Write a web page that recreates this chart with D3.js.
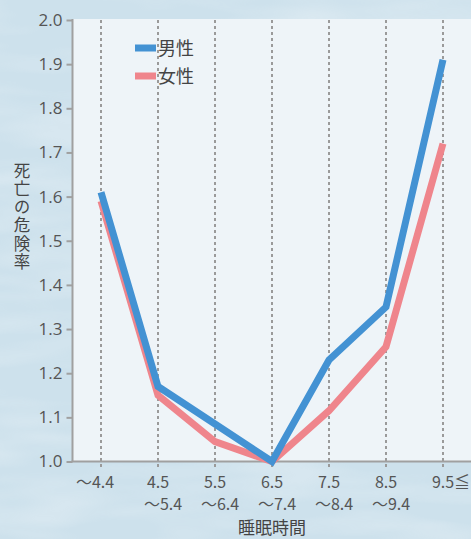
<!DOCTYPE html>
<html>
<head>
<meta charset="utf-8">
<script src="https://cdn.jsdelivr.net/npm/d3@7"></script>
<style>
  html, body { margin: 0; padding: 0; background: #d2e4ee; }
  svg { display: block; }
  text { font-family: "Noto Sans CJK JP", "Noto Sans", sans-serif; }
</style>
</head>
<body>
<svg id="chart" width="471" height="539"></svg>
<script>
// Sleep duration categories (hours)
const categories = ["~4.4", "4.5~5.4", "5.5~6.4", "6.5~7.4", "7.5~8.4", "8.5~9.4", "9.5≦"];
const tickLines = [["〜4.4"], ["4.5", "〜5.4"], ["5.5", "〜6.4"], ["6.5", "〜7.4"], ["7.5", "〜8.4"], ["8.5", "〜9.4"], ["9.5≦"]];
// Relative mortality risk
const male   = [1.61, 1.17, 1.085, 1.0, 1.23, 1.35, 1.91];
const female = [1.59, 1.15, 1.045, 1.0, 1.115, 1.26, 1.72];
const yTicks = [1.0, 1.1, 1.2, 1.3, 1.4, 1.5, 1.6, 1.7, 1.8, 1.9, 2.0];
const seriesNames = ["男性", "女性"];
const seriesColors = ["#4392d3", "#ef858c"];

const svg = d3.select("#chart");
const W = 471, H = 539;
const plotL = 72.5, plotR = 471.5, plotT = 20, plotB = 461.5;

// Textured background
const defs = svg.append("defs");
const f = defs.append("filter").attr("id", "paper").attr("x", 0).attr("y", 0).attr("width", "100%").attr("height", "100%");
f.append("feTurbulence").attr("type", "fractalNoise").attr("baseFrequency", "0.006 0.03").attr("numOctaves", 3).attr("seed", 4).attr("result", "n");
f.append("feColorMatrix").attr("in", "n").attr("type", "matrix")
  .attr("values", "0 0 0 0 1  0 0 0 0 1  0 0 0 0 1  0 0 0 1.1 -0.45");
svg.append("rect").attr("width", W).attr("height", H).attr("fill", "#cde1ec");
svg.append("rect").attr("width", W).attr("height", H).attr("filter", "url(#paper)").attr("opacity", 0.55);

const x = d3.scalePoint().domain(categories).range([plotL, plotR]).padding(0.5);
const y = d3.scaleLinear().domain([1.0, 2.0]).range([plotB, plotT]);

// Plot area
svg.append("rect").attr("x", plotL).attr("y", plotT - 1).attr("width", plotR - plotL).attr("height", plotB - plotT + 1)
  .attr("fill", "#eef4f8");

// Vertical dotted gridlines
svg.append("g").selectAll("line").data(categories).join("line")
  .attr("x1", d => x(d)).attr("x2", d => x(d))
  .attr("y1", plotT).attr("y2", plotB + 8)
  .attr("stroke", "#9a9a9a").attr("stroke-width", 2).attr("stroke-dasharray", "3,3");

// Y axis
const yAxis = svg.append("g").attr("transform", `translate(${plotL},0)`)
  .call(d3.axisLeft(y).tickValues(yTicks).tickFormat(d3.format(".1f")).tickSize(6).tickPadding(4));
yAxis.select(".domain").attr("stroke", "#a0a0a0").attr("stroke-width", 2).attr("d", `M0,${plotT - 1}V${plotB}`);
yAxis.selectAll(".tick line").attr("stroke", "#a0a0a0").attr("stroke-width", 2);
yAxis.selectAll(".tick text").attr("fill", "#555").attr("font-size", 17)
  .style("font-family", "'Open Sans', 'Noto Sans', sans-serif");

// Bottom axis line
svg.append("line").attr("x1", plotL - 1).attr("x2", plotR).attr("y1", plotB).attr("y2", plotB)
  .attr("stroke", "#a0a0a0").attr("stroke-width", 2);

// X tick labels: first line (start of range) and second line (end of range)
const xg = svg.append("g")
  .attr("fill", "#555").attr("font-size", 16).attr("text-anchor", "middle")
  .style("font-family", "'Liberation Sans', 'Open Sans', sans-serif");
categories.forEach((c, i) => {
  const parts = tickLines[i];
  parts.forEach((s, j) => {
    let shift = 0;
    if (parts.length === 1) shift = s.startsWith("〜") ? -6 : 8;
    else if (j === 1) shift = 5;
    xg.append("text").attr("x", x(c) + shift).attr("y", 487.5 + j * 22).text(s);
  });
});

// Lines
const line = d3.line().x((d, i) => x(categories[i])).y(d => y(d));
[female, male].forEach((vals, k) => {
  svg.append("path").datum(vals).attr("d", line)
    .attr("fill", "none").attr("stroke", seriesColors[1 - k]).attr("stroke-width", 7)
    .attr("stroke-linejoin", "miter");
});

// Legend
const lg = svg.append("g").selectAll("g").data(seriesNames).join("g")
  .attr("transform", (d, i) => `translate(135,${48 + i * 28})`);
lg.append("rect").attr("x", 0).attr("y", -3.5).attr("width", 21).attr("height", 7)
  .attr("fill", (d, i) => seriesColors[i]);
lg.append("text").attr("x", 23).attr("y", 6.5).attr("font-size", 18).attr("fill", "#444").text(d => d);

// Axis titles
svg.append("text")
  .attr("x", 22).attr("y", 162)
  .attr("fill", "#444").attr("font-size", 16.5)
  .style("writing-mode", "vertical-rl")
  .style("letter-spacing", "1.8px")
  .text("死亡の危険率");
svg.append("text").attr("x", 272).attr("y", 534).attr("text-anchor", "middle")
  .attr("font-size", 17).attr("fill", "#444").text("睡眠時間");
</script>
</body>
</html>
